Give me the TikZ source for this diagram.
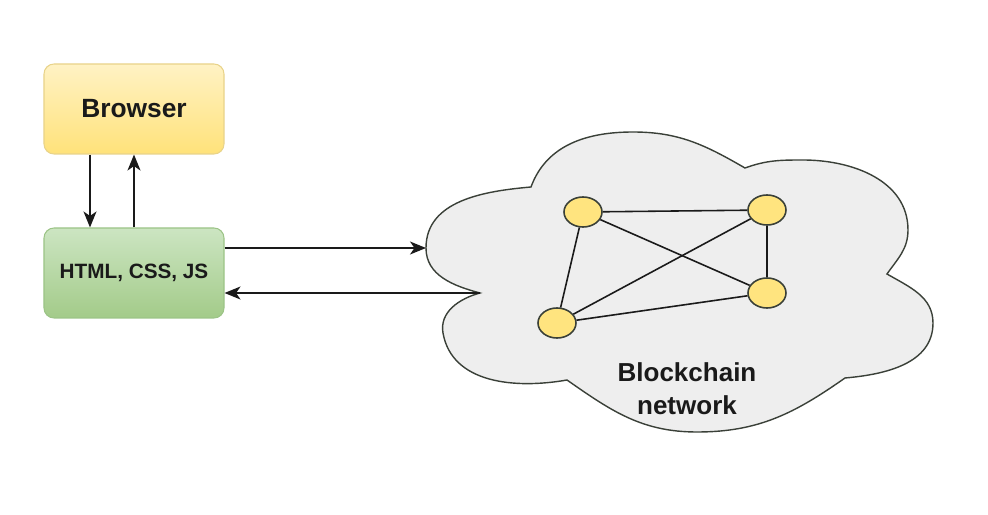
\documentclass[tikz,border=0pt]{standalone}
\usepackage{fontspec}
\setmainfont{Liberation Sans}
\usepackage{tikz}
\usetikzlibrary{
	arrows.meta,
	calc,
	positioning,
	shapes,
}
\definecolor{browsertop}{HTML}{FFF2C4}
\definecolor{browserbot}{HTML}{FFE27A}
\definecolor{browserline}{HTML}{E8D38A}
\definecolor{webtop}{HTML}{CCE5C2}
\definecolor{webbot}{HTML}{A3CB89}
\definecolor{webline}{HTML}{9CC487}
\definecolor{cloudfill}{HTML}{EEEEEE}
\definecolor{cloudline}{HTML}{3A4038}
\definecolor{peerfill}{HTML}{FFE47F}
\definecolor{txt}{HTML}{1A1A1A}
\tikzset{box/.style={rounded corners=2mm,minimum width=3.6cm,minimum height=1.8cm,line width=0.6pt,font=\bfseries,text=txt,shading=axis,}}
\tikzset{browserbox/.style={box,draw=browserline,top color=browsertop,bottom color=browserbot,}}
\tikzset{webbox/.style={box,draw=webline,top color=webtop,bottom color=webbot,}}
\tikzset{peer/.style={draw=cloudline,ellipse,fill=peerfill,minimum width=7.6mm,minimum height=6mm,inner sep=0mm,line width=0.9pt,}}
\tikzset{link/.style={draw=txt,line width=0.9pt,}}
\tikzset{
	>={Stealth[length=3.2mm,width=2.6mm,inset=0.9mm]},
	thick,
}

\begin{document}
\begin{tikzpicture}
\useasboundingbox (0,0) rectangle (19.76,10.3);

% cloud outline
\coordinate (cin) at (9.60,4.44);
\coordinate (cleft) at (8.52,5.34);
\draw[cloudline,fill=cloudfill,line width=0.8pt]
(cin) to[out=165,in=-90] (cleft)
to[out=90,in=185] (10.62,6.56)
to[out=70,in=180] (12.66,7.66)
to[out=0,in=150] (14.90,6.94)
to[out=20,in=180] (16.06,7.10)
to[out=0,in=90] (18.16,5.70)
to[out=-90,in=55] (17.74,4.82)
to[out=-30,in=90] (18.66,3.84)
to[out=-90,in=5] (16.90,2.74)
to[out=-145,in=0] (13.94,1.66)
to[out=180,in=-35] (11.34,2.70)
to[out=190,in=-80] (8.86,3.64)
to[out=100,in=195] (cin)
-- cycle;

\node[browserbox,font=\bfseries\fontsize{15}{18}\selectfont](browser) at (2.68,8.12){Browser};
\node[webbox,font=\bfseries\fontsize{11.8}{14}\selectfont](web) at (2.68,4.84){HTML, CSS, JS};

\draw[->,link] ([xshift=-8.8mm]browser.south) -- ([xshift=-8.8mm]web.north);
\draw[->,link] (web.north) -- (browser.south);

\draw[->,link] (web.east |- cleft) -- (cleft);
\draw[->,link] (cin) -- (web.east |- cin);

% peers
\node[peer](p1) at (11.66,6.06){};
\node[peer](p2) at (15.34,6.10){};
\node[peer](p3) at (15.34,4.44){};
\node[peer](p4) at (11.14,3.84){};

\draw[link] (p1) -- (p2);
\draw[link] (p1) -- (p3);
\draw[link] (p1) -- (p4);
\draw[link] (p2) -- (p3);
\draw[link] (p2) -- (p4);
\draw[link] (p4) -- (p3);

\node[font=\bfseries\fontsize{14.8}{19}\selectfont,text=txt,align=center](chain) at (13.74,2.52){Blockchain\\network};
\end{tikzpicture}
\end{document}
